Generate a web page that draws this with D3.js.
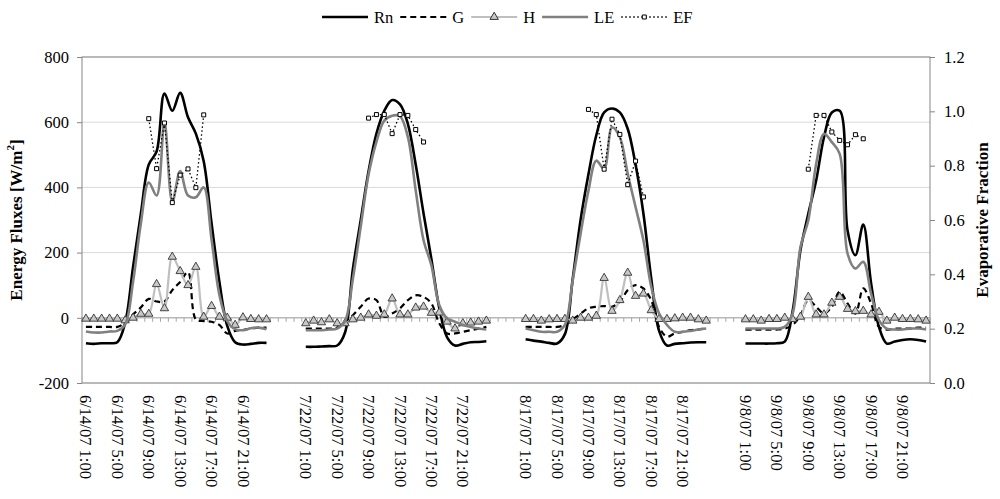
<!DOCTYPE html>
<html>
<head>
<meta charset="utf-8">
<script src="https://cdn.jsdelivr.net/npm/d3@7"></script>
<style>
body { margin: 0; background: #fff; }
svg text { font-family: "Liberation Serif", "Times New Roman", "DejaVu Serif", serif; }
</style>
</head>
<body>
<div id="chart"></div>
<script>
// categories: four measurement days, hourly, with blank slots between the days
var days = ["6/14/07", "7/22/07", "8/17/07", "9/8/07"];
var hours = ["1:00", "2:00", "3:00", "4:00", "5:00", "6:00", "7:00", "8:00", "9:00", "10:00", "11:00", "12:00",
             "13:00", "14:00", "15:00", "16:00", "17:00", "18:00", "19:00", "20:00", "21:00", "22:00", "23:00", "0:00"];
var gapSlots = 4;
var labelEvery = 4;
var efHours = ["9:00", "10:00", "11:00", "12:00", "13:00", "14:00", "15:00", "16:00"];

// W/m2, one row per day
var rn = [
    [-78, -80, -78, -78, -75, -15, 155, 320, 470, 510, 688, 635, 690, 615, 565, 480, 290, 110, -25, -75, -82, -80, -77, -77],
    [-89, -89, -88, -87, -85, -45, 150, 300, 450, 565, 635, 668, 655, 595, 470, 320, 180, 30, -60, -85, -80, -75, -74, -72],
    [-66, -70, -73, -77, -79, -50, 120, 300, 440, 560, 630, 642, 630, 580, 470, 320, 120, -40, -85, -80, -78, -76, -75, -75],
    [-79, -79, -79, -79, -78, -73, 20, 207, 319, 421, 554, 630, 635, 268, 192, 286, 105, -28, -79, -73, -68, -66, -68, -73]
];
var g = [
    [-28, -28, -28, -28, -28, -15, 10, 32, 58, 50, 50, 85, 110, 140, -5, -10, -12, -22, -48, -40, -37, -33, -30, -30],
    [-33, -33, -33, -33, -30, -15, 8, 34, 59, 54, 3, 13, 29, 54, 69, 64, 44, -17, -48, -48, -43, -38, -33, -28],
    [-28, -28, -28, -28, -28, -22, -5, 13, 29, 34, 36, 34, 49, 85, 100, 90, 54, -28, -58, -48, -43, -38, -36, -33],
    [-36, -36, -36, -36, -36, -33, -22, 8, 54, 34, 13, 34, 80, 44, 13, 90, 44, -28, -36, -33, -33, -33, -30, -30]
];
var h = [
    [-3, -3, -3, -3, -3, -8, 0, 12, 12, 103, 29, 187, 143, 100, 156, 3, 36, 3, 0, -22, 1, -4, -5, -5],
    [-17, -9, -14, -5, -17, -17, -5, 0, 10, 6, 10, 59, 10, 10, 31, 34, 15, 16, -12, -33, -17, -15, -12, -9],
    [-4, -4, -9, -5, -4, -4, -9, 0, 0, 6, 122, 21, 54, 138, 67, 74, 23, -4, -4, -2, 0, 0, -5, -9],
    [-5, -5, -9, -4, -4, 0, -4, 3, 64, 10, 10, 46, 64, 27, 20, 21, 10, 18, -9, 0, -4, -4, -5, -9]
];
var le = [
    [-42, -45, -45, -42, -40, -20, 110, 290, 415, 375, 600, 355, 450, 375, 370, 400, 240, 70, -10, -35, -38, -32, -30, -35],
    [-38, -38, -38, -36, -33, -10, 120, 280, 440, 540, 605, 620, 618, 555, 391, 238, 161, 39, -2, -12, -22, -28, -33, -36],
    [-33, -38, -43, -43, -43, -22, 115, 258, 390, 482, 457, 584, 554, 442, 340, 238, 95, 13, -22, -43, -43, -40, -36, -33],
    [-33, -33, -33, -33, -33, -28, 13, 217, 299, 472, 564, 539, 503, 197, 151, 172, 74, -7, -33, -36, -36, -33, -33, -36]
];
// evaporative fraction, day-time hours only (efHours)
var ef = [
    [0.973, 0.789, 0.957, 0.664, 0.765, 0.788, 0.719, 0.987],
    [0.975, 0.988, 0.988, 0.918, 0.988, 0.985, 0.933, 0.887],
    [1.007, 0.988, 0.787, 0.971, 0.915, 0.730, 0.817, 0.685],
    [0.787, 0.985, 0.985, 0.924, 0.893, 0.877, 0.914, 0.899]
];
var yTicks = [-200, 0, 200, 400, 600, 800];
var y2Ticks = [0, 0.2, 0.4, 0.6, 0.8, 1.0, 1.2];

var W = 1000, H = 499;
var plot = { left: 82, right: 930, top: 57, bottom: 383 };
var serif = '"Liberation Serif", "Times New Roman", "DejaVu Serif", serif';

var cats = [];
days.forEach(function (d, di) {
    hours.forEach(function (hr, hi) { cats.push({ day: di, hour: hi, label: d + " " + hr }); });
    if (di < days.length - 1) {
        for (var k = 0; k < gapSlots; k++) cats.push({ day: -1, hour: -1, label: "" });
    }
});

var x = d3.scaleBand().domain(d3.range(cats.length)).range([plot.left, plot.right]);
var bw = x.bandwidth();
var cx = function (i) { return x(i) + bw / 2; };
var y = d3.scaleLinear().domain([-200, 800]).range([plot.bottom, plot.top]);
var y2 = d3.scaleLinear().domain([0, 1.2]).range([plot.bottom, plot.top]);

function flat(rows) {
    return cats.map(function (c) { return c.day < 0 ? null : rows[c.day][c.hour]; });
}
var efFlat = cats.map(function (c) {
    if (c.day < 0) return null;
    var k = efHours.indexOf(hours[c.hour]);
    return k < 0 ? null : ef[c.day][k];
});

var svg = d3.select("#chart").append("svg").attr("width", W).attr("height", H);

// gridlines
svg.append("g").selectAll("line").data(yTicks).enter().append("line")
    .attr("x1", plot.left).attr("x2", plot.right)
    .attr("y1", function (d) { return y(d); }).attr("y2", function (d) { return y(d); })
    .attr("stroke", "#d9d9d9").attr("stroke-width", 1);

// category axis sitting on zero
var zeroAxis = svg.append("g");
zeroAxis.append("line").attr("x1", plot.left).attr("x2", plot.right)
    .attr("y1", y(0)).attr("y2", y(0)).attr("stroke", "#a6a6a6");
zeroAxis.selectAll("line.tk").data(d3.range(cats.length + 1)).enter().append("line")
    .attr("class", "tk")
    .attr("x1", function (i) { return i < cats.length ? x(i) : plot.right; })
    .attr("x2", function (i) { return i < cats.length ? x(i) : plot.right; })
    .attr("y1", y(0)).attr("y2", y(0) + 4)
    .attr("stroke", "#a6a6a6");

// plot border
svg.append("rect").attr("x", plot.left).attr("y", plot.top)
    .attr("width", plot.right - plot.left).attr("height", plot.bottom - plot.top)
    .attr("fill", "none").attr("stroke", "#868686");

// axes
var left = svg.append("g").attr("transform", "translate(" + plot.left + ",0)")
    .call(d3.axisLeft(y).tickValues(yTicks).tickSize(5).tickPadding(8).tickFormat(function (d) { return String(d); }));
var right = svg.append("g").attr("transform", "translate(" + plot.right + ",0)")
    .call(d3.axisRight(y2).tickValues(y2Ticks).tickSize(5).tickPadding(9).tickFormat(d3.format(".1f")));
[left, right].forEach(function (a) {
    a.attr("font-family", null);
    a.select(".domain").remove();
    a.selectAll(".tick line").attr("stroke", "#868686");
    a.selectAll("text").attr("font-size", 16.5).attr("fill", "#000");
});

// rotated category labels
svg.append("g").selectAll("text")
    .data(cats.map(function (c, i) { return { i: i, label: c.label }; })
        .filter(function (d) { return d.i % labelEvery === 0 && d.label; }))
    .enter().append("text")
    .attr("transform", function (d) { return "translate(" + cx(d.i) + "," + (plot.bottom + 12) + ") rotate(90)"; })
    .attr("dy", "0.33em")
    .attr("font-size", 16.5)
    .text(function (d) { return d.label; });

// axis titles
svg.append("text")
    .attr("transform", "translate(22," + ((plot.top + plot.bottom) / 2) + ") rotate(-90)")
    .attr("text-anchor", "middle").attr("font-weight", "bold").attr("font-size", 17)
    .call(function (t) {
        t.append("tspan").text("Energy Fluxes [W/m");
        t.append("tspan").attr("font-size", 11).attr("dy", -8).text("2");
        t.append("tspan").attr("dy", 8).text("]");
    });
svg.append("text")
    .attr("transform", "translate(988," + ((plot.top + plot.bottom) / 2) + ") rotate(-90)")
    .attr("text-anchor", "middle").attr("font-weight", "bold").attr("font-size", 17)
    .text("Evaporative Fraction");

// series
var smooth = function (ys) {
    return d3.line()
        .defined(function (v) { return v != null; })
        .x(function (v, i) { return cx(i); })
        .y(function (v) { return ys(v); })
        .curve(d3.curveCatmullRom);
};
var series = [
    { name: "Rn", values: flat(rn), stroke: "#000", width: 2.6, dash: null },
    { name: "G", values: flat(g), stroke: "#000", width: 2.2, dash: "6,4" },
    { name: "H", values: flat(h), stroke: "#bfbfbf", width: 2.2, dash: null, marker: "tri" },
    { name: "LE", values: flat(le), stroke: "#808080", width: 2.6, dash: null },
    { name: "EF", values: efFlat, stroke: "#000", width: 1.3, dash: "1.5,2.5", marker: "sq", secondary: true }
];

series.forEach(function (s) {
    var ys = s.secondary ? y2 : y;
    var gen = smooth(ys);
    if (s.secondary) gen.curve(d3.curveLinear);
    svg.append("path").datum(s.values)
        .attr("d", gen)
        .attr("fill", "none").attr("stroke", s.stroke).attr("stroke-width", s.width)
        .attr("stroke-dasharray", s.dash).attr("stroke-linejoin", "round");
    if (s.marker) {
        var pts = s.values.map(function (v, i) { return { v: v, i: i }; }).filter(function (d) { return d.v != null; });
        svg.append("g").selectAll("path").data(pts).enter().append("path")
            .attr("transform", function (d) { return "translate(" + cx(d.i) + "," + ys(d.v) + ")"; })
            .attr("d", d3.symbol().type(s.marker === "tri" ? d3.symbolTriangle : d3.symbolSquare).size(s.marker === "tri" ? 30 : 16))
            .attr("fill", s.marker === "tri" ? "#c8c8c8" : "#fff")
            .attr("stroke", s.marker === "tri" ? "#333" : "#000")
            .attr("stroke-width", s.marker === "tri" ? 0.9 : 1);
    }
});

// legend
var legend = svg.append("g").attr("transform", "translate(0,17)");
var lx = 322;
series.forEach(function (s) {
    var item = legend.append("g").attr("transform", "translate(" + lx + ",0)");
    item.append("line").attr("x1", 0).attr("x2", 46).attr("y1", 0).attr("y2", 0)
        .attr("stroke", s.stroke).attr("stroke-width", s.width).attr("stroke-dasharray", s.dash);
    if (s.marker) {
        item.append("path").attr("transform", "translate(23,0)")
            .attr("d", d3.symbol().type(s.marker === "tri" ? d3.symbolTriangle : d3.symbolSquare).size(s.marker === "tri" ? 30 : 16))
            .attr("fill", s.marker === "tri" ? "#c8c8c8" : "#fff")
            .attr("stroke", s.marker === "tri" ? "#333" : "#000").attr("stroke-width", 1);
    }
    var t = item.append("text").attr("x", 52).attr("dy", "0.35em").attr("font-size", 16.5).text(s.name);
    lx += 52 + t.node().getComputedTextLength() + 7;
});

svg.selectAll("text").style("font-family", serif);
</script>
</body>
</html>
